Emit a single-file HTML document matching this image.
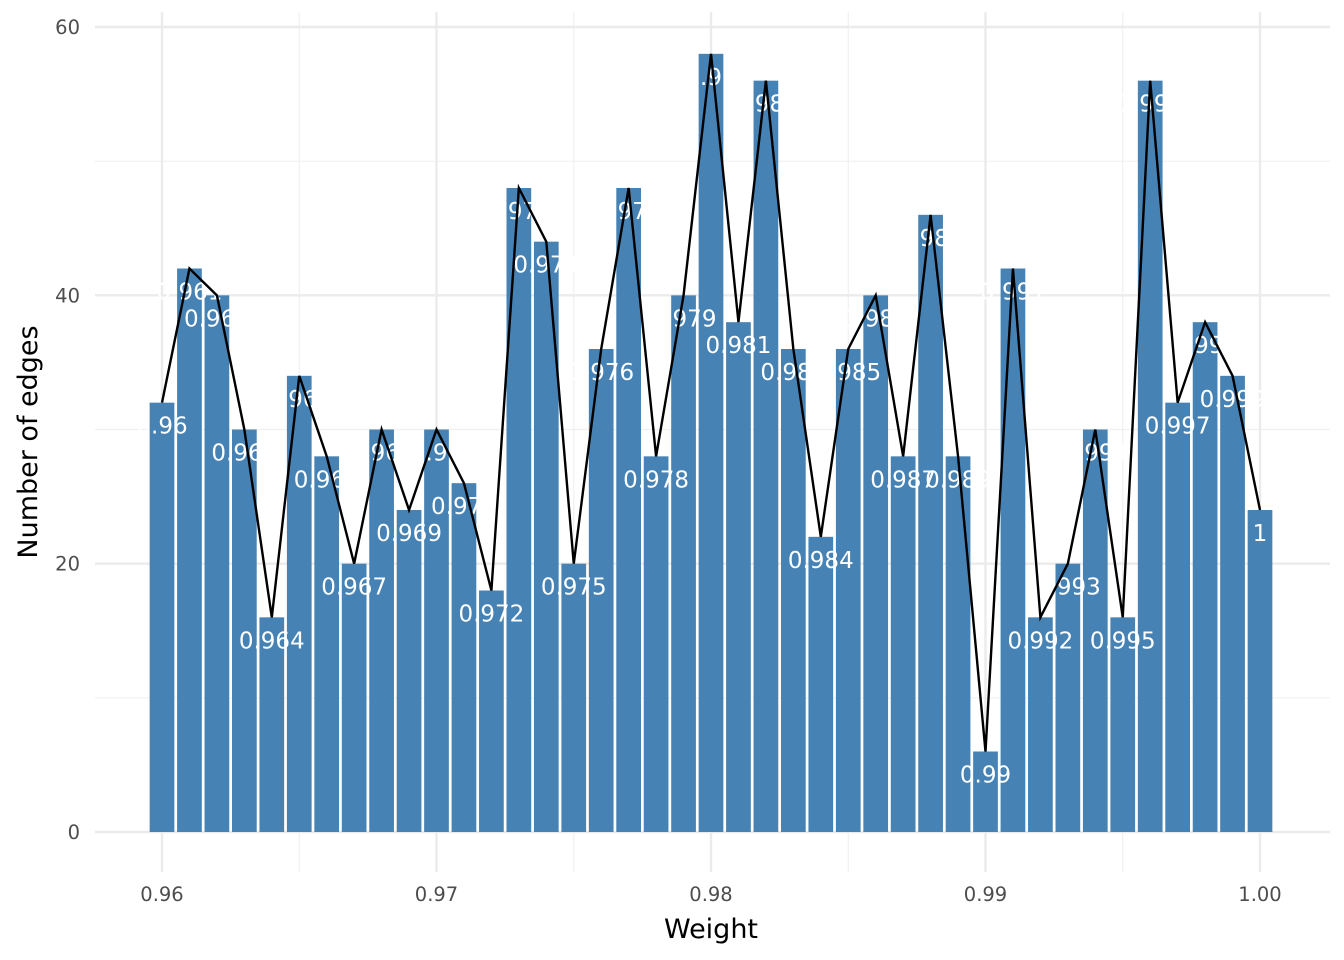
<!DOCTYPE html>
<html><head><meta charset="utf-8"><style>html,body{margin:0;background:#fff}svg{display:block}</style></head>
<body>
<svg id="chart" width="1344" height="960" xmlns="http://www.w3.org/2000/svg" font-family="DejaVu Sans, Liberation Sans, sans-serif">
<g id="grid"></g>
<g id="bars"></g>
<g id="labels"></g>
<g id="line"></g>
<g id="axes"></g>
<text x="711" y="938" font-size="27" text-anchor="middle" fill="#000">Weight</text>
<text transform="translate(37,442) rotate(-90)" font-size="27" text-anchor="middle" fill="#000">Number of edges</text>
</svg>
<script>
const weights = [0.960,0.961,0.962,0.963,0.964,0.965,0.966,0.967,0.968,0.969,0.970,0.971,0.972,0.973,0.974,0.975,0.976,0.977,0.978,0.979,0.980,0.981,0.982,0.983,0.984,0.985,0.986,0.987,0.988,0.989,0.990,0.991,0.992,0.993,0.994,0.995,0.996,0.997,0.998,0.999,1.000];
const counts = [32,42,40,30,16,34,28,20,30,24,30,26,18,48,44,20,36,48,28,40,58,38,56,36,22,36,40,28,46,28,6,42,16,20,30,16,56,32,38,34,24];
const xTicks = [0.96,0.97,0.98,0.99,1.00];
const xTickLabels = ["0.96","0.97","0.98","0.99","1.00"];
const yTicks = [0,20,40,60];
const NS="http://www.w3.org/2000/svg";
const px0=95, px1=1330, py0=12, py1=872;
function xs(v){return 162+(v-0.96)/0.04*1098;}
function ys(v){return 832-v/60*805;}
function mk(t,a,p){const e=document.createElementNS(NS,t);for(const k in a)e.setAttribute(k,a[k]);p.appendChild(e);return e;}
const grid=document.getElementById('grid');
[10,30,50].forEach(v=>{const l=mk('line',{x1:px0,x2:px1,y1:ys(v),y2:ys(v),stroke:'#f0f0f0','stroke-width':1.2},grid);

});
[0.965,0.975,0.985,0.995].forEach(v=>{const l=mk('line',{x1:xs(v),x2:xs(v),y1:py0,y2:py1,stroke:'#f0f0f0','stroke-width':1.2},grid);

});
yTicks.forEach(v=>{const l=mk('line',{x1:px0,x2:px1,y1:ys(v),y2:ys(v),stroke:'#ebebeb','stroke-width':2.4},grid);

});
xTicks.forEach(v=>{const l=mk('line',{x1:xs(v),x2:xs(v),y1:py0,y2:py1,stroke:'#ebebeb','stroke-width':2.4},grid);

});
const bw=1098/40*0.9;
const bars=document.getElementById('bars'), labels=document.getElementById('labels');
weights.forEach((w,i)=>{
 const r=mk('rect',{x:xs(w)-bw/2,y:ys(counts[i]),width:bw,height:ys(0)-ys(counts[i]),fill:'#4682b4'},bars);
 
 
 const t=mk('text',{x:xs(w),y:ys(counts[i])+31,'font-size':23,'text-anchor':'middle',fill:'#fff'},labels);
 t.textContent=String(parseFloat(w.toFixed(3)));
 
 
});
const pl=mk('polyline',{points:weights.map((w,i)=>xs(w)+','+ys(counts[i])).join(' '),fill:'none',stroke:'#000','stroke-width':2.4},document.getElementById('line'));


const axes=document.getElementById('axes');
xTicks.forEach((v,i)=>{const t=mk('text',{x:xs(v),y:901,'font-size':19.5,'text-anchor':'middle',fill:'#4d4d4d'},axes);t.textContent=xTickLabels[i];

});
yTicks.forEach(v=>{const t=mk('text',{x:80,y:ys(v)+7,'font-size':19.5,'text-anchor':'end',fill:'#4d4d4d'},axes);t.textContent=v;

});
</script>
</body></html>
